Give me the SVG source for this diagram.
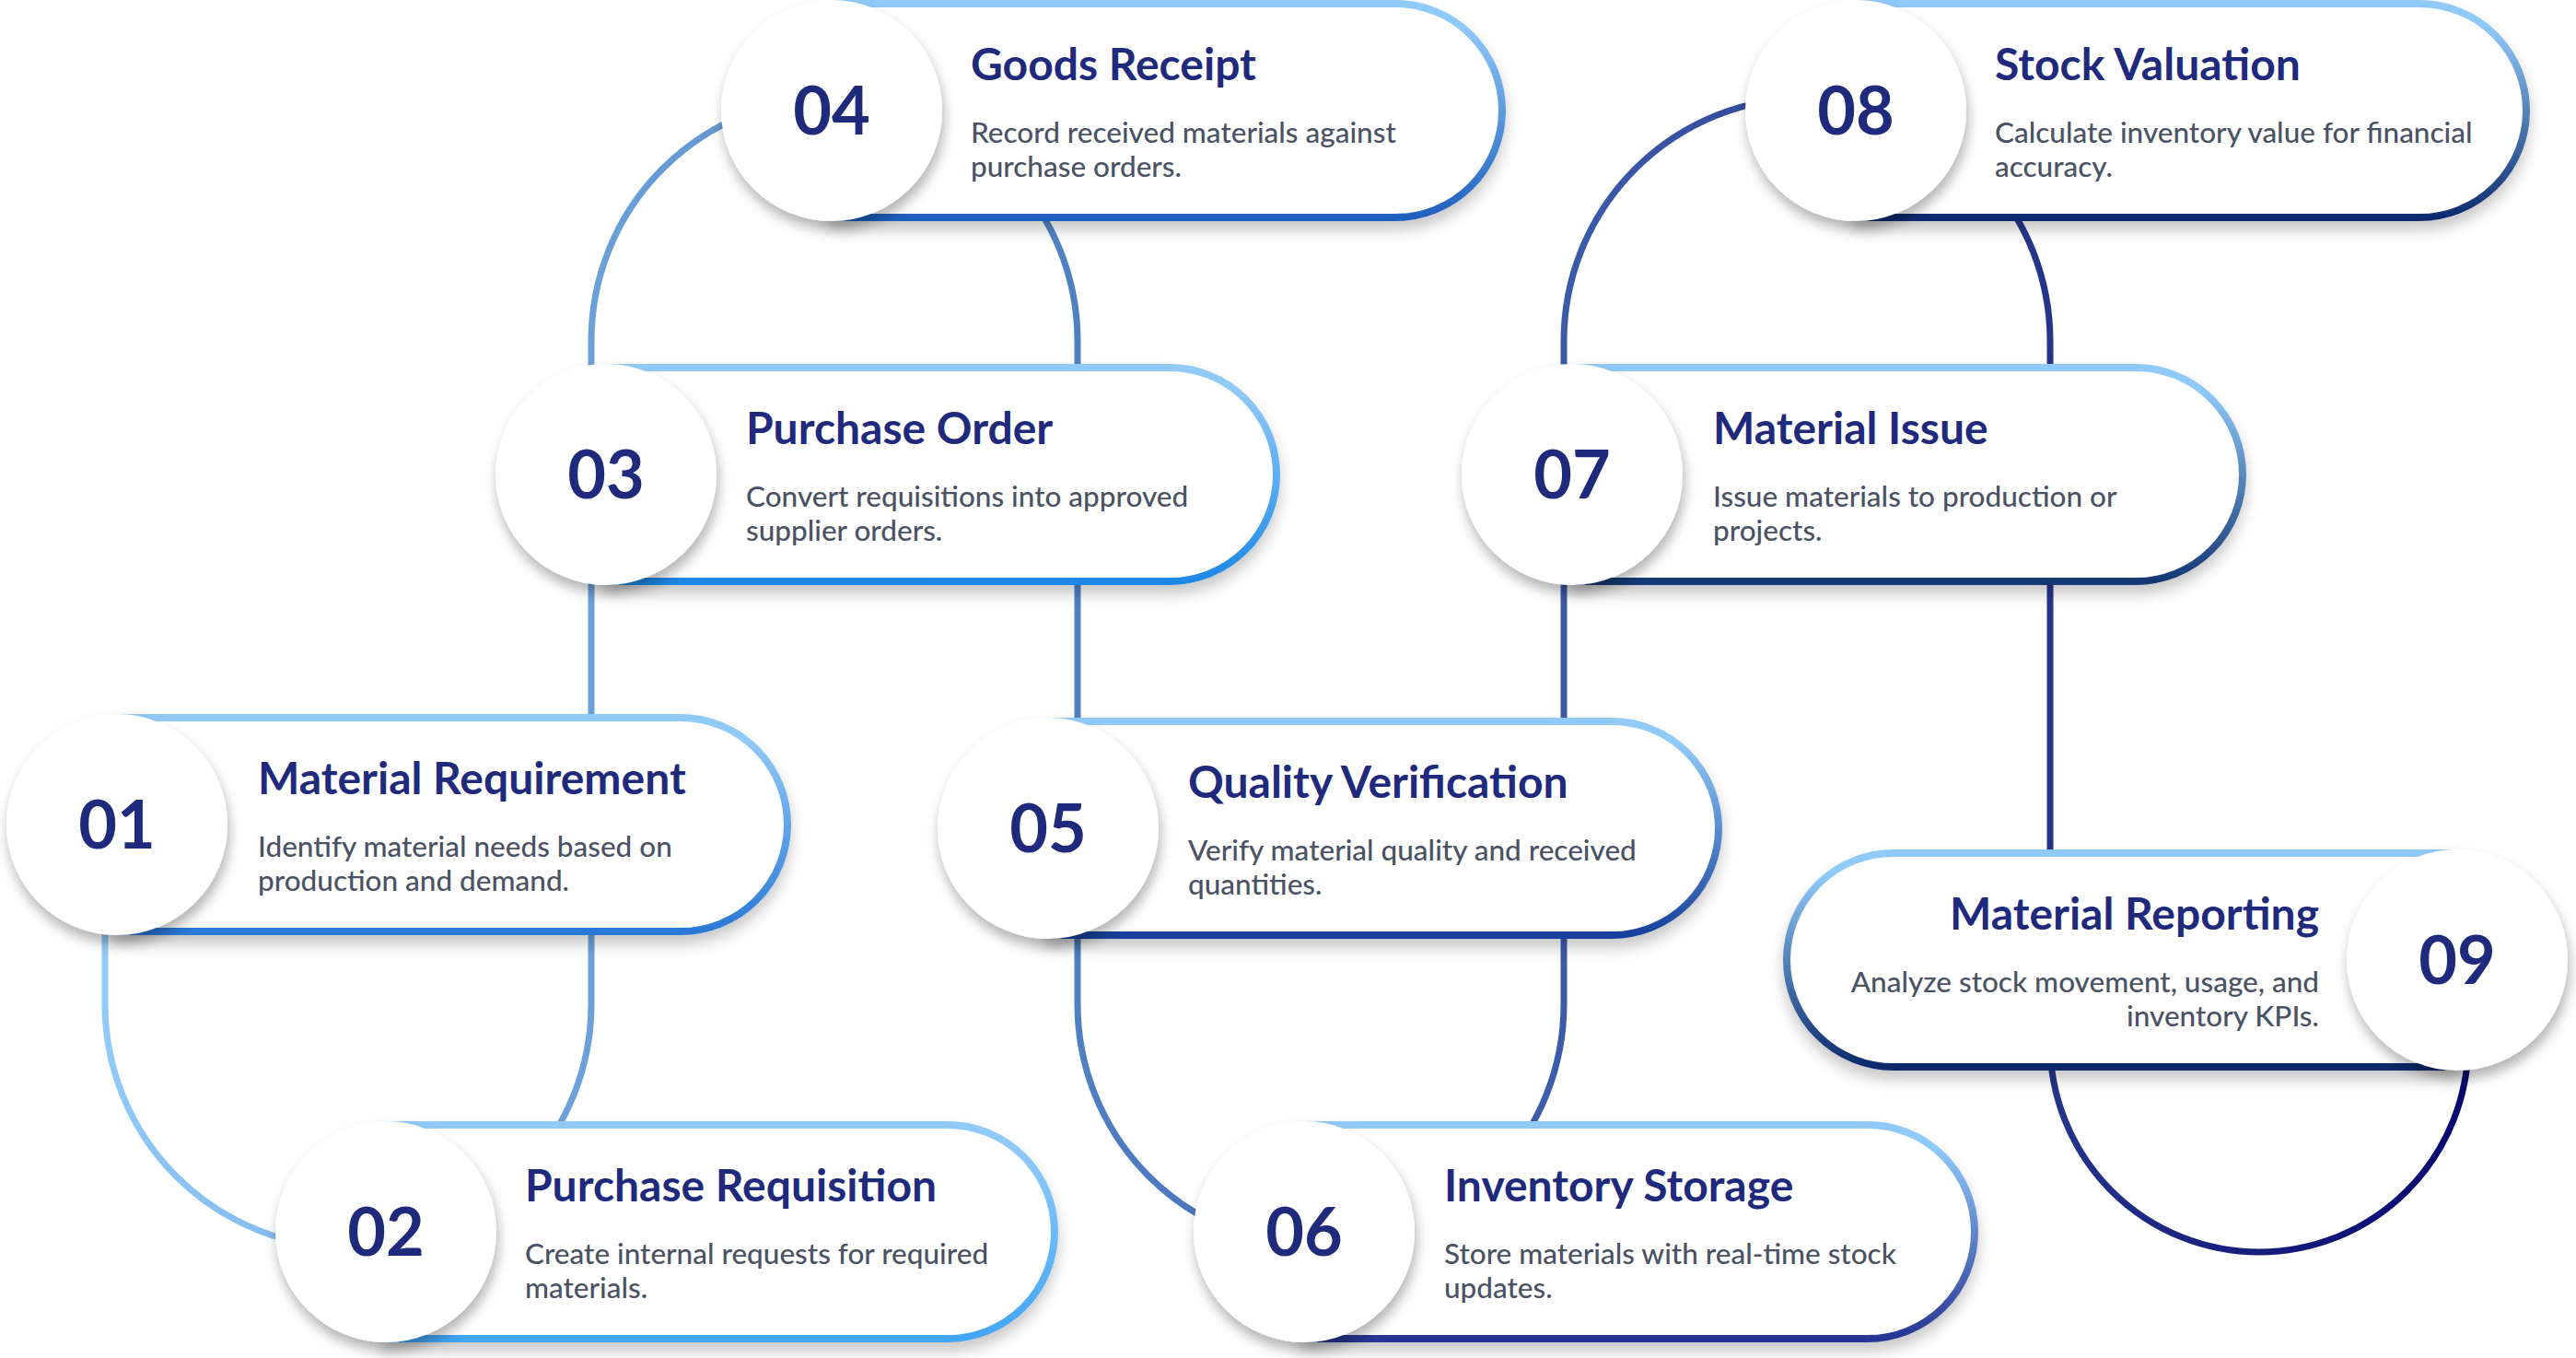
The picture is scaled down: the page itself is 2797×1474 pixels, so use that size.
<svg xmlns="http://www.w3.org/2000/svg" width="2797" height="1474" viewBox="0 0 2797 1474">
<defs>
<style>
.card{fill:#ffffff;stroke-width:8;filter:url(#cardShadow)}
.disc{fill:#ffffff;filter:url(#discShadow)}
.num{font-family:Lato,"Noto Sans",sans-serif;font-weight:700;font-size:72px;fill:#1f2a7c;text-anchor:middle}
.title{font-family:Lato,"Noto Sans",sans-serif;font-weight:700;font-size:48px;fill:#1f2a7c}
.desc{font-family:Lato,"Noto Sans",sans-serif;font-weight:500;font-size:31.5px;fill:#4a5264}
.end{text-anchor:end}
.link{fill:none;stroke:url(#linkGrad);stroke-width:7}
</style>
<filter id="cardShadow" x="-10%" y="-20%" width="120%" height="150%">
<feDropShadow dx="0" dy="10" stdDeviation="8" flood-color="#000" flood-opacity="0.22"/>
</filter>
<filter id="discShadow" x="-30%" y="-30%" width="160%" height="160%">
<feDropShadow dx="2" dy="9" stdDeviation="7" flood-color="#000" flood-opacity="0.3"/>
</filter>
<linearGradient id="linkGrad" gradientUnits="userSpaceOnUse" x1="114" y1="0" x2="2680" y2="0">
<stop offset="0" stop-color="#90CAF9"/>
<stop offset="0.21" stop-color="#6a9fd8"/>
<stop offset="0.41" stop-color="#5080c4"/>
<stop offset="0.62" stop-color="#3c5aaa"/>
<stop offset="0.82" stop-color="#26358b"/>
<stop offset="1" stop-color="#060670"/>
</linearGradient>
<linearGradient id="s1" x1="0" y1="0" x2="0" y2="1"><stop offset="0.1" stop-color="#90CAF9"/><stop offset="1" stop-color="#2a78d6"/></linearGradient>
<linearGradient id="s2" x1="0" y1="0" x2="0" y2="1"><stop offset="0.1" stop-color="#90CAF9"/><stop offset="1" stop-color="#42a5f5"/></linearGradient>
<linearGradient id="s3" x1="0" y1="0" x2="0" y2="1"><stop offset="0.1" stop-color="#90CAF9"/><stop offset="1" stop-color="#1e88e5"/></linearGradient>
<linearGradient id="s4" x1="0" y1="0" x2="0" y2="1"><stop offset="0.1" stop-color="#90CAF9"/><stop offset="1" stop-color="#1f60bf"/></linearGradient>
<linearGradient id="s5" x1="0" y1="0" x2="0" y2="1"><stop offset="0.1" stop-color="#90CAF9"/><stop offset="1" stop-color="#17419c"/></linearGradient>
<linearGradient id="s6" x1="0" y1="0" x2="0" y2="1"><stop offset="0.1" stop-color="#90CAF9"/><stop offset="1" stop-color="#283593"/></linearGradient>
<linearGradient id="s7" x1="0" y1="0" x2="0" y2="1"><stop offset="0.1" stop-color="#90CAF9"/><stop offset="1" stop-color="#143776"/></linearGradient>
<linearGradient id="s8" x1="0" y1="0" x2="0" y2="1"><stop offset="0.1" stop-color="#90CAF9"/><stop offset="1" stop-color="#0d2b6e"/></linearGradient>
<linearGradient id="s9" x1="0" y1="0" x2="0" y2="1"><stop offset="0.1" stop-color="#90CAF9"/><stop offset="1" stop-color="#0b2a6b"/></linearGradient>
</defs>
<rect width="2797" height="1474" fill="#ffffff"/>

<g id="connectors">
<path class="link" d="M114,1000 V1090 A264,264 0 0 0 642,1090 V370 A264,264 0 0 1 1170,370 V1090 A264,264 0 0 0 1698,1090 V370 A264,264 0 0 1 2226,370 V1132 A227,227 0 0 0 2680,1132 V1100"/>
</g>

<g id="node01" transform="translate(127,895)">
<path class="card" stroke="url(#s1)" d="M0,-116 H612 A116,116 0 0 1 612,116 H0 Z"/>
<circle class="disc" cx="0" cy="0" r="120"/>
<text class="num" x="0" y="26">01</text>
<text class="title" x="153" y="-33">Material Requirement</text>
<text class="desc" x="153" y="35">Identify material needs based on</text>
<text class="desc" x="153" y="72">production and demand.</text>
</g>

<g id="node02" transform="translate(419,1337)">
<path class="card" stroke="url(#s2)" d="M0,-116 H610 A116,116 0 0 1 610,116 H0 Z"/>
<circle class="disc" cx="0" cy="0" r="120"/>
<text class="num" x="0" y="26">02</text>
<text class="title" x="151" y="-33">Purchase Requisition</text>
<text class="desc" x="151" y="35">Create internal requests for required</text>
<text class="desc" x="151" y="72">materials.</text>
</g>

<g id="node03" transform="translate(658,515)">
<path class="card" stroke="url(#s3)" d="M0,-116 H612 A116,116 0 0 1 612,116 H0 Z"/>
<circle class="disc" cx="0" cy="0" r="120"/>
<text class="num" x="0" y="26">03</text>
<text class="title" x="152" y="-33">Purchase Order</text>
<text class="desc" x="152" y="35">Convert requisitions into approved</text>
<text class="desc" x="152" y="72">supplier orders.</text>
</g>

<g id="node04" transform="translate(903,120)">
<path class="card" stroke="url(#s4)" d="M0,-116 H612 A116,116 0 0 1 612,116 H0 Z"/>
<circle class="disc" cx="0" cy="0" r="120"/>
<text class="num" x="0" y="26">04</text>
<text class="title" x="151" y="-33">Goods Receipt</text>
<text class="desc" x="151" y="35">Record received materials against</text>
<text class="desc" x="151" y="72">purchase orders.</text>
</g>

<g id="node05" transform="translate(1138,899)">
<path class="card" stroke="url(#s5)" d="M0,-116 H612 A116,116 0 0 1 612,116 H0 Z"/>
<circle class="disc" cx="0" cy="0" r="120"/>
<text class="num" x="0" y="26">05</text>
<text class="title" x="152" y="-33">Quality Verification</text>
<text class="desc" x="152" y="35">Verify material quality and received</text>
<text class="desc" x="152" y="72">quantities.</text>
</g>

<g id="node06" transform="translate(1416,1337)">
<path class="card" stroke="url(#s6)" d="M0,-116 H612 A116,116 0 0 1 612,116 H0 Z"/>
<circle class="disc" cx="0" cy="0" r="120"/>
<text class="num" x="0" y="26">06</text>
<text class="title" x="152" y="-33">Inventory Storage</text>
<text class="desc" x="152" y="35">Store materials with real-time stock</text>
<text class="desc" x="152" y="72">updates.</text>
</g>

<g id="node07" transform="translate(1707,515)">
<path class="card" stroke="url(#s7)" d="M0,-116 H612 A116,116 0 0 1 612,116 H0 Z"/>
<circle class="disc" cx="0" cy="0" r="120"/>
<text class="num" x="0" y="26">07</text>
<text class="title" x="153" y="-33">Material Issue</text>
<text class="desc" x="153" y="35">Issue materials to production or</text>
<text class="desc" x="153" y="72">projects.</text>
</g>

<g id="node08" transform="translate(2015,120)">
<path class="card" stroke="url(#s8)" d="M0,-116 H612 A116,116 0 0 1 612,116 H0 Z"/>
<circle class="disc" cx="0" cy="0" r="120"/>
<text class="num" x="0" y="26">08</text>
<text class="title" x="151" y="-33">Stock Valuation</text>
<text class="desc" x="151" y="35">Calculate inventory value for financial</text>
<text class="desc" x="151" y="72">accuracy.</text>
</g>

<g id="node09" transform="translate(2668,1042)">
<path class="card" stroke="url(#s9)" d="M0,-116 H-612 A116,116 0 0 0 -612,116 H0 Z"/>
<circle class="disc" cx="0" cy="0" r="120"/>
<text class="num" x="0" y="26">09</text>
<text class="title end" x="-150" y="-33">Material Reporting</text>
<text class="desc end" x="-150" y="35">Analyze stock movement, usage, and</text>
<text class="desc end" x="-150" y="72">inventory KPIs.</text>
</g>
</svg>
